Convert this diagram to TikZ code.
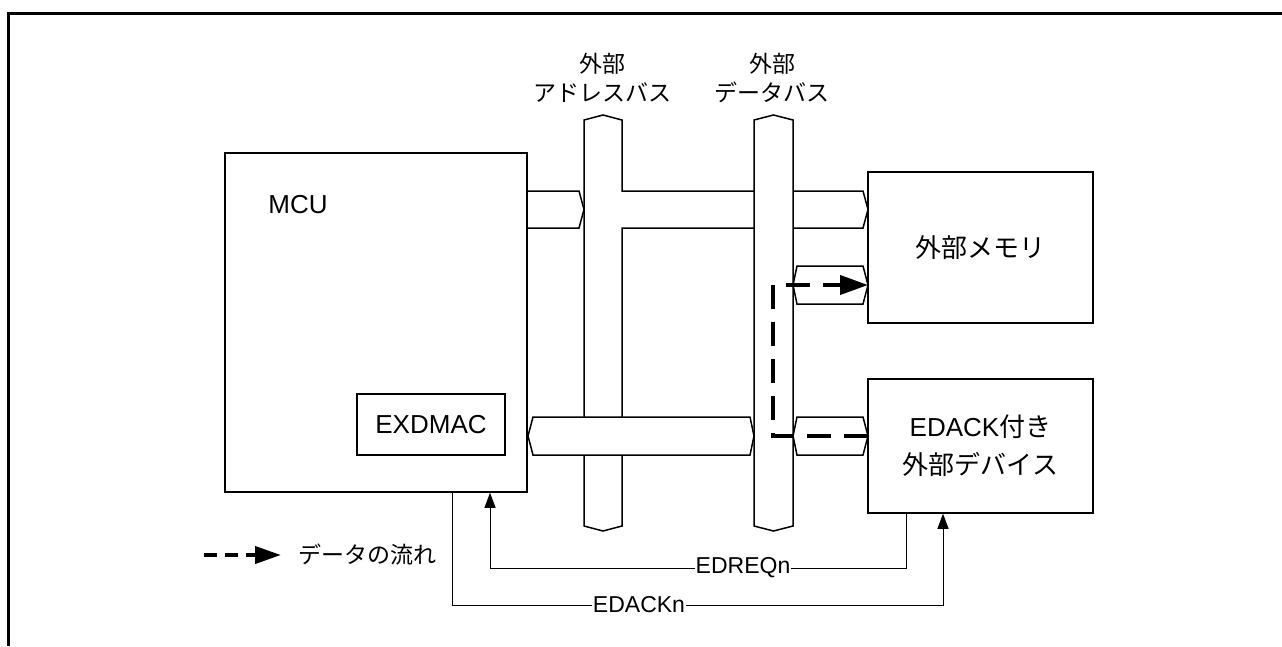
\documentclass[tikz,border=0pt]{standalone}
\usepackage{fontspec}
\setmainfont{Liberation Sans}
\newfontfamily\cjk{Noto Sans CJK JP}
\usetikzlibrary{arrows.meta}
\begin{document}
\begin{tikzpicture}[x=1pt,y=-1pt,
  box/.style={draw, line width=1.5pt, fill=white, inner sep=0pt},
  bus/.style={draw, line width=1.5pt, fill=white, line join=miter},
  sig/.style={draw, line width=1pt, -{Triangle[length=15pt,width=11pt]}},
  flow/.style={line width=4pt, dash pattern=on 24pt off 13pt, -{Triangle[length=28pt,width=19pt]}},
  flowleg/.style={line width=4pt, dash pattern=on 13pt off 8pt, -{Triangle[length=26pt,width=17pt]}},
  big/.style={font=\fontsize{26}{38}\selectfont},
  small/.style={font=\fontsize{23}{29}\selectfont},
  lbl/.style={fill=white, inner sep=1pt, font=\fontsize{23}{27}\selectfont}]
\useasboundingbox (0,0) rectangle (1282,646);
% frame
\draw[line width=3pt] (8,646) -- (8,13) -- (1282,13);
% address bus with upper horizontal branch
\draw[bus] (584,120) -- (603,115) -- (622,120) -- (622,191) -- (863,191) -- (868,209.5)
  -- (863,228) -- (622,228) -- (622,526) -- (603,531) -- (584,526) -- cycle;
% data bus
\draw[bus] (754,120) -- (773.5,115) -- (793,120) -- (793,526) -- (773.5,531) -- (754,526) -- cycle;
% MCU to address bus
\draw[bus] (527,191) -- (579,191) -- (584,209.5) -- (579,228) -- (527,228);
% lower bus MCU to data bus
\draw[bus] (528,436) -- (533,417) -- (750,417) -- (754,436) -- (750,455) -- (533,455) -- cycle;
% data bus to memory
\draw[bus] (793,285) -- (797,266) -- (863,266) -- (868,285) -- (863,304) -- (797,304) -- cycle;
% data bus to device
\draw[bus] (793,436) -- (797,417) -- (863,417) -- (868,436) -- (863,455) -- (797,455) -- cycle;
% boxes
\node[box, minimum width=302pt, minimum height=339pt] (mcu) at (376,322.5) {};
\node[big] (mculbl) at (298,205) {MCU};
\node[box, big, minimum width=148pt, minimum height=61pt] (exdmac) at (431,424.5) {EXDMAC};
\node[box, big, minimum width=225pt, minimum height=151pt] (mem) at (980.5,247.5) {\cjk 外部メモリ};
\node[box, big, align=center, minimum width=225pt, minimum height=134pt] (dev) at (980.5,446) {EDACK{\cjk 付き}\\{\cjk 外部デバイス}};
% bus labels
\node[small, align=center] (abuslbl) at (602,77.5) {\cjk 外部\\\cjk アドレスバス};
\node[small, align=center] (dbuslbl) at (772,77.5) {\cjk 外部\\\cjk データバス};
% data flow
\coordinate (fs) at (868,436);
\coordinate (fc1) at (773,436);
\coordinate (fc2) at (773,285);
\coordinate (fe) at (868,285);
\draw[flow] (fs) -- (fc1) -- (fc2) -- (fe);
% signals
\draw[sig] ([xshift=-74.5pt]dev.south) |- (490,568) -- ([xshift=114pt]mcu.south);
\node[lbl] (rqlbl) at (743,568) {EDREQn};
\draw[sig] ([xshift=76pt]mcu.south) |- (943,605) -- ([xshift=-37.5pt]dev.south);
\node[lbl] (acklbl) at (639,605) {EDACKn};
% legend
\coordinate (la) at (204,555);
\coordinate (lb) at (281,555);
\draw[flowleg] (la) -- (lb);
\node[small] (legtxt) at (367,555) {\cjk データの流れ};
\end{tikzpicture}
\end{document}
